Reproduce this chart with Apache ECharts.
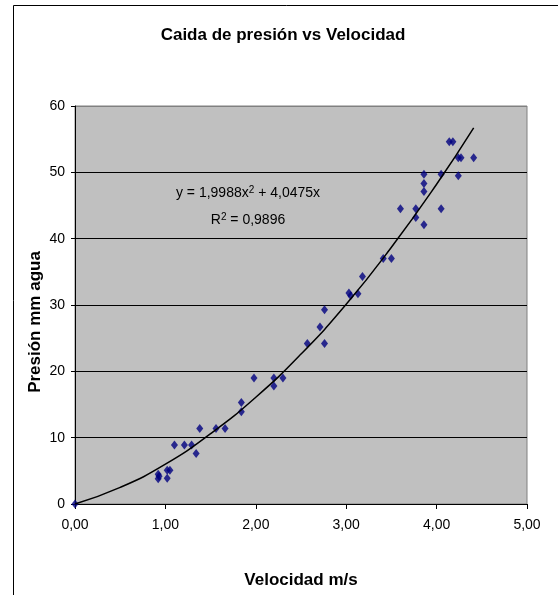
<!DOCTYPE html>
<html>
<head>
<meta charset="utf-8">
<script src="https://cdn.jsdelivr.net/npm/echarts@6/dist/echarts.min.js"></script>
<style>
  html, body { margin: 0; padding: 0; background: #fff; }
  #chart { width: 558px; height: 595px; }
</style>
</head>
<body>
<div id="chart"></div>
<script>
// datos
const velocidad = [0, 0.92, 0.93, 0.92, 1.02, 1.05, 1.02, 1.10, 1.21, 1.29, 1.34, 1.38, 1.56, 1.66, 1.84, 1.84,
  1.98, 2.20, 2.20, 2.30, 2.57, 2.71, 2.76, 2.76, 3.03, 3.05, 3.13, 3.18, 3.41, 3.50, 3.60, 3.77, 3.77,
  3.86, 3.86, 3.86, 3.86, 4.05, 4.05, 4.14, 4.18, 4.24, 4.27, 4.24, 4.41]
const presion = [0, 3.8, 4.2, 4.5, 5.1, 5.1, 3.9, 8.9, 8.9, 8.9, 7.6, 11.4, 11.4, 11.4, 15.3, 13.9,
  19.0, 19.0, 17.8, 19.0, 24.2, 26.7, 24.2, 29.3, 31.8, 31.4, 31.7, 34.3, 37.0, 37.0, 44.5, 44.5, 43.2,
  49.7, 48.3, 47.1, 42.1, 49.7, 44.5, 54.6, 54.6, 52.2, 52.2, 49.5, 52.2]

// linea de tendencia (polinomica)
const tendenciaX = [0, 0.5, 1, 1.5, 2, 2.5, 3, 3.5, 4, 4.41]
const tendenciaY = [0, 2.5, 6.0, 10.6, 16.1, 22.6, 30.1, 38.7, 48.2, 56.7]

const xTicks = [0, 1, 2, 3, 4, 5]
const yTicks = [0, 10, 20, 30, 40, 50, 60]

const fuente = "'Liberation Sans', Arial, sans-serif"

const myChart = echarts.init(document.getElementById("chart"))

const option = {
  animation: false,
  backgroundColor: "#fff",
  textStyle: { fontFamily: fuente },
  grid: {
    left: 75,
    top: 106,
    width: 452,
    height: 398,
    show: true,
    backgroundColor: "#c0c0c0",
    borderColor: "#808080",
    borderWidth: 1
  },
  xAxis: {
    type: "value",
    min: xTicks[0],
    max: xTicks[xTicks.length - 1],
    interval: 1,
    axisLine: { lineStyle: { color: "#000", width: 1 } },
    axisTick: { show: true, length: 5, lineStyle: { color: "#000" } },
    axisLabel: {
      color: "#000",
      fontSize: 14,
      margin: 14,
      formatter: (v) => v.toFixed(2).replace(".", ",")
    },
    splitLine: { show: false }
  },
  yAxis: {
    type: "value",
    min: yTicks[0],
    max: yTicks[yTicks.length - 1],
    interval: 10,
    axisLine: { show: true, lineStyle: { color: "#000", width: 1 } },
    axisTick: { show: true, length: 4, lineStyle: { color: "#000" } },
    axisLabel: { color: "#000", fontSize: 14, margin: 10 },
    splitLine: {
      show: true,
      lineStyle: { color: ["#000", "#000", "#000", "#000", "#000", "#000", "#808080"], width: 1 }
    }
  },
  graphic: [
    {
      type: "rect",
      shape: { x: 13.5, y: 5.5, width: 600, height: 600 },
      style: { fill: "none", stroke: "#000", lineWidth: 1 },
      silent: true
    },
    {
      type: "text",
      x: 283,
      y: 35,
      style: {
        text: "Caida de presión vs Velocidad",
        font: "bold 17px " + fuente,
        fill: "#000",
        align: "center",
        verticalAlign: "middle"
      }
    },
    {
      type: "text",
      x: 301,
      y: 580,
      style: {
        text: "Velocidad m/s",
        font: "bold 17px " + fuente,
        fill: "#000",
        align: "center",
        verticalAlign: "middle"
      }
    },
    {
      type: "text",
      x: 35,
      y: 322,
      rotation: Math.PI / 2,
      style: {
        text: "Presión mm agua",
        font: "bold 17px " + fuente,
        fill: "#000",
        align: "center",
        verticalAlign: "middle"
      }
    },
    {
      type: "text",
      x: 248,
      y: 193,
      z: 10,
      style: {
        text: "y = 1,9988x{s|2} + 4,0475x",
        font: "14px " + fuente,
        fill: "#000",
        align: "center",
        verticalAlign: "middle",
        rich: { s: { fontSize: 10, verticalAlign: "top", padding: [0, 0, 6, 0] } }
      }
    },
    {
      type: "text",
      x: 248,
      y: 220,
      z: 10,
      style: {
        text: "R{s|2} = 0,9896",
        font: "14px " + fuente,
        fill: "#000",
        align: "center",
        verticalAlign: "middle",
        rich: { s: { fontSize: 10, verticalAlign: "top", padding: [0, 0, 6, 0] } }
      }
    }
  ],
  series: [
    {
      name: "Presión",
      type: "scatter",
      symbol: "diamond",
      symbolSize: [7, 9],
      itemStyle: { color: "#000080" },
      data: velocidad.map((v, i) => [v, presion[i]]),
      z: 2
    },
    {
      name: "Tendencia",
      type: "line",
      smooth: true,
      showSymbol: false,
      lineStyle: { color: "#000", width: 1.5 },
      data: tendenciaX.map((v, i) => [v, tendenciaY[i]]),
      z: 3
    }
  ]
}

myChart.setOption(option)

window.onresize = () => {
  myChart.resize()
}
</script>
</body>
</html>
